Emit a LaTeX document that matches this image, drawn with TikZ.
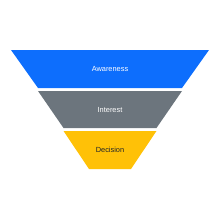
\documentclass[tikz,border=0pt]{standalone}
\usepackage{xcolor}
\definecolor{primary}{RGB}{13,110,253}
\definecolor{secondary}{RGB}{108,117,125}
\definecolor{warning}{RGB}{255,193,7}
\definecolor{dark}{RGB}{33,37,41}
\usepackage{fontspec}
\setmainfont{Liberation Sans}
\usepackage{tikz}
\usetikzlibrary{positioning}
\tikzset{
    stagelabel/.style={font=\fontsize{7.4}{9}\selectfont, inner sep=0pt}
}

\begin{document}
\begin{tikzpicture}[x=1pt, y=-1pt]
        \useasboundingbox (0, 0) rectangle (220, 220);
        % stages of the funnel
        \fill[primary] (11, 50) -- (209, 50) -- (182, 88) -- (38, 88) -- cycle;
        \fill[secondary] (38, 91) -- (182, 91) -- (156.5, 128) -- (63.5, 128) -- cycle;
        \fill[warning] (63.5, 131) -- (156.5, 131) -- (131, 169) -- (89, 169) -- cycle;
        \node[stagelabel, text=white] (awareness) at (110, 69) {Awareness};
        \node[stagelabel, text=white] (interest) at (110, 109.5) {Interest};
        \node[stagelabel, text=dark] (decision) at (110, 150) {Decision};
    \end{tikzpicture}
\end{document}
